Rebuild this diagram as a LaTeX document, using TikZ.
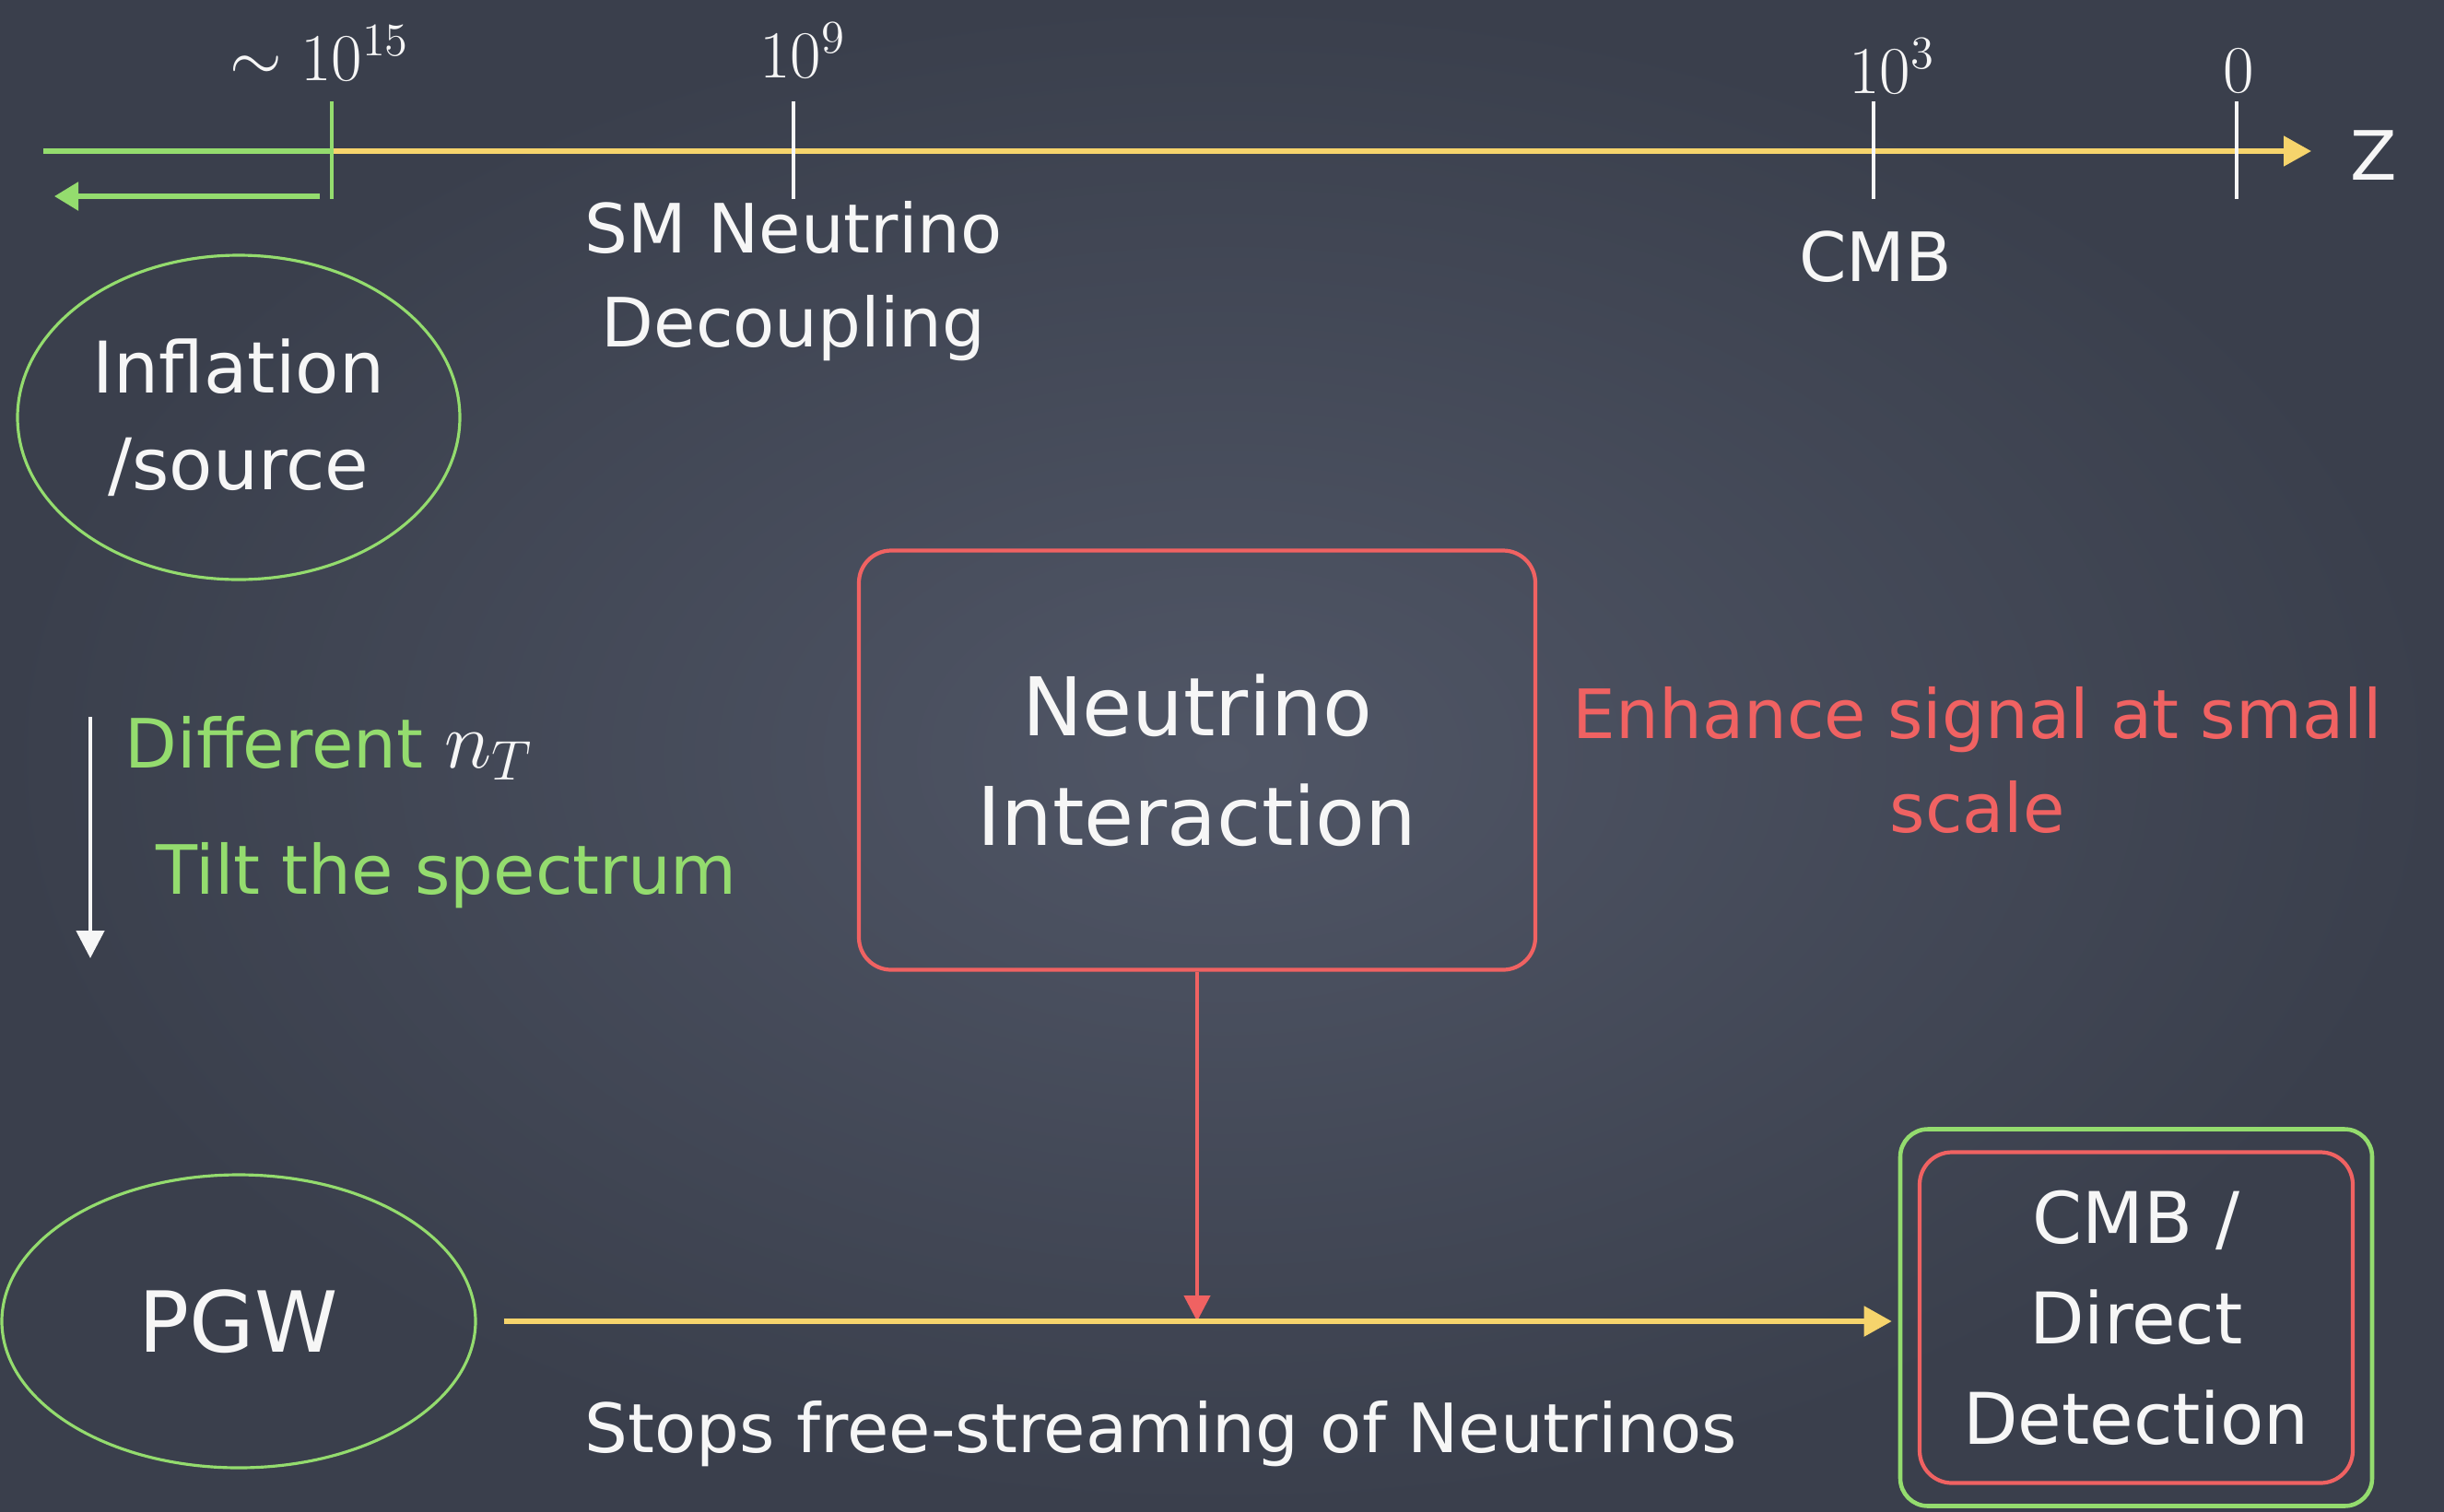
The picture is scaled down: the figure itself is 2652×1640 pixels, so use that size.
\documentclass[tikz,border=0pt]{standalone}
\usepackage{amsmath,amssymb}
\usepackage{fontspec}
\setmainfont{DejaVu Sans}
\usepackage{tikz}
\usetikzlibrary{arrows.meta,shapes.geometric,positioning}

\definecolor{boardin}{RGB}{80,86,102}
\definecolor{boardout}{RGB}{58,63,76}
\definecolor{chalkwhite}{RGB}{246,246,246}
\definecolor{chalkgreen}{RGB}{148,220,110}
\definecolor{chalkyellow}{RGB}{246,212,108}
\definecolor{chalkred}{RGB}{240,98,98}

\begin{document}
\begin{tikzpicture}[x=0.1mm,y=-0.1mm,>={Triangle[length=3mm,width=3.2mm]},
                    chalk/.style={text=chalkwhite,align=center,inner sep=0pt,
                                  font=\fontsize{21}{29}\selectfont},
                    bigchalk/.style={text=chalkwhite,align=center,
                                     font=\fontsize{25}{34}\selectfont},
                    zval/.style={text=chalkwhite,inner sep=0pt,anchor=base,
                                 font=\fontsize{22}{22}\selectfont},
                    zmark/.style={line width=1.4pt},
                    bubble/.style={ellipse,draw=chalkgreen,line width=0.9pt},
                    panel/.style={rectangle,draw=chalkred,line width=1.2pt,
                                  rounded corners=3.5mm},
                    yel/.style={draw=chalkyellow,line width=1.5pt},
                    grn/.style={draw=chalkgreen,line width=1.5pt},
                    red/.style={draw=chalkred,line width=1.3pt},
                    wht/.style={draw=chalkwhite,line width=1.3pt}]

  \shade[inner color=boardin,outer color=boardout] (0,0) rectangle (2652,1640);
  \useasboundingbox (0,0) rectangle (2652,1640);

  % redshift axis
  \coordinate (zstart) at (47,164);
  \coordinate (zend)   at (2508,164);
  \coordinate (t15)    at (360,164);
  \draw[grn] (zstart) -- (t15);
  \draw[yel,->] (t15) -- (zend);

  \foreach \t/\x/\c in {t15/360/chalkgreen,t9/861/chalkwhite,
                        t3/2033/chalkwhite,t0/2427/chalkwhite}{
    \coordinate (\t) at (\x,164);
    \draw[zmark,draw=\c] ([yshift=5.4mm]\t) -- ([yshift=-5.2mm]\t);
  }

  \node[zval] (l15) at (347,87)   {$\sim 10^{15}$};
  \node[zval] (l9)  at (871,84)   {$10^{9}$};
  \node[zval] (l3)  at (2053,101) {$10^{3}$};
  \node[zval] (l0)  at (2429,100) {$0$};
  \node[chalk,font=\fontsize{21}{21}\selectfont] (z) at (2576,169) {Z};

  \coordinate (early)   at (347,213);
  \coordinate (earlier) at (59,213);
  \draw[grn,>={Triangle[length=2.6mm,width=3mm]},->] (early) -- (earlier);

  \node[chalk] (decoup) at (861,305)  {SM Neutrino\\Decoupling};
  \node[chalk] (cmb)    at (2035,279) {CMB};

  % sources
  \node[bubble,chalk,font=\fontsize{22}{30}\selectfont,
        minimum width=48mm,minimum height=35.2mm] (infl) at (259,453)
        {Inflation\\/source};
  \node[bubble,chalk,font=\fontsize{26}{26}\selectfont,
        minimum width=51.4mm,minimum height=31.8mm] (pgw) at (259,1434) {PGW};

  % tilt
  \coordinate (tilttop) at (98,778);
  \coordinate (tiltbot) at (98,1040);
  \draw[wht,>={Triangle[length=3mm,width=3mm]},->] (tilttop) -- (tiltbot);
  \node[chalk,text=chalkgreen,anchor=west] (diff) at (135,812)
        {Different \textcolor{chalkwhite}{\fontsize{25}{25}\selectfont$n_T$}};
  \node[chalk,text=chalkgreen,anchor=west] (tilt) at (169,950) {Tilt the spectrum};

  % interaction
  \node[panel,bigchalk,minimum width=73.4mm,minimum height=45.5mm] (nuint)
        at (1299,825) {Neutrino\\Interaction};
  \node[chalk,text=chalkred] (enh) [right=3.8mm of nuint] {Enhance signal at small\\scale};

  % detection
  \node[rectangle,draw=chalkgreen,line width=1.3pt,rounded corners=3mm,
        minimum width=51.2mm,minimum height=40.9mm] (detect) at (2318,1430) {};
  \node[panel,bigchalk,font=\fontsize{22}{31}\selectfont,
        minimum width=47mm,minimum height=35.9mm] (detin) at (detect) {CMB /\\Direct\\Detection};

  \coordinate (hit) at (nuint.south |- pgw.center);
  \draw[red,>={Triangle[length=2.8mm,width=2.8mm]},->] (nuint) -- (hit);
  \draw[yel,->,shorten <=2.9mm,shorten >=0.7mm] (pgw.east) -- (detect.west |- pgw.east);

  \node[chalk] (stops) at (1260,1556) {Stops free-streaming of Neutrinos};

\end{tikzpicture}
\end{document}
